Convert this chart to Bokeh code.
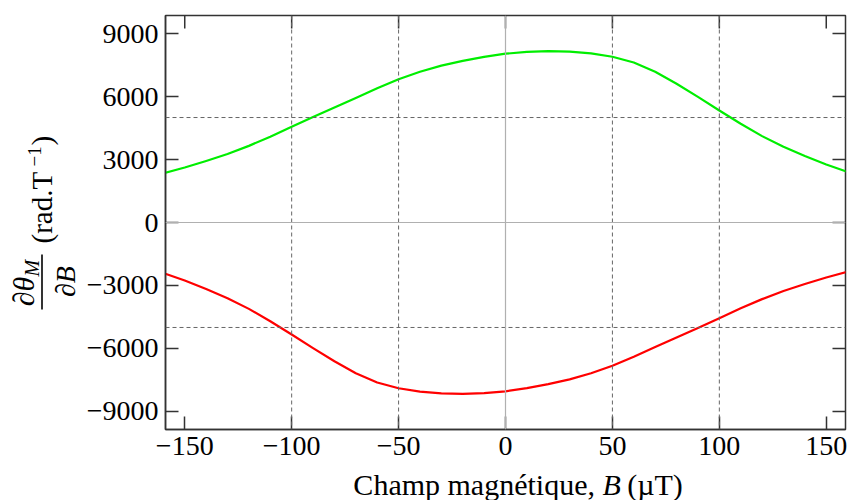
import math
from bokeh.plotting import figure
from bokeh.layouts import row, column
from bokeh.models import Range1d, Span, FixedTicker, CustomJSTickFormatter
from bokeh.core.properties import value
from bokeh.embed import file_html
from bokeh.resources import INLINE

# ---- data ----
B = [-160, -150, -140, -130, -120, -110, -100, -90, -80, -70, -60, -50, -40, -30, -20, -10,
     0, 10, 20, 30, 40, 50, 60, 70, 80, 90, 100, 110, 120, 130, 140, 150, 160]
green = [2340, 2620, 2930, 3260, 3650, 4090, 4560, 5020, 5480, 5930, 6390, 6820, 7180, 7470,
         7700, 7890, 8040, 8130, 8165, 8140, 8055, 7895, 7620, 7180, 6610, 5985, 5335, 4705,
         4115, 3605, 3165, 2765, 2405]
red = [-2405, -2765, -3165, -3605, -4115, -4705, -5335, -5985, -6610, -7180, -7620, -7895,
       -8055, -8140, -8165, -8130, -8040, -7890, -7700, -7470, -7180, -6820, -6390, -5930,
       -5480, -5020, -4560, -4090, -3650, -3260, -2930, -2620, -2340]
x_ticks = [-150, -100, -50, 0, 50, 100, 150]
y_ticks = [-9000, -6000, -3000, 0, 3000, 6000, 9000]
dashed_x = [-100, -50, 50, 100]
dashed_y = [-5000, 5000]
x_label_parts = ["Champ magnétique,", "B", "(µT)"]
y_label_parts = ["\u2202\u03b8", "M", "\u2202B", "(rad.T", "\u22121", ")"]

X0, X1 = -159, 159
Y0, Y1 = -9860, 9860

FONT = "Liberation Serif"
TOTAL_W, TOTAL_H = 850, 500
LW = 81                      # width of the left label strip
MW, MH = TOTAL_W - LW, 466   # main figure
BH = TOTAL_H - MH            # bottom label strip
FL, FT, FR, FB = 84, 15, 5, 37
FW = MW - FL - FR
FH = MH - FT - FB

# ---------------- main plot ----------------
p = figure(width=MW, height=MH, output_backend="svg", toolbar_location=None, title=None,
           x_range=Range1d(X0, X1), y_range=Range1d(Y0, Y1),
           min_border_left=FL, min_border_top=FT, min_border_right=FR,
           min_border_bottom=FB)
p.grid.visible = False
p.outline_line_color = "#333333"
p.outline_line_width = 1.5
p.background_fill_color = "white"
p.border_fill_color = "white"

minus_fmt = CustomJSTickFormatter(
    code="return tick < 0 ? '\u2212' + Math.abs(tick) : String(tick);")

for ax, ticks, standoff in ((p.xaxis[0], x_ticks, 7), (p.yaxis[0], y_ticks, 7)):
    ax.ticker = FixedTicker(ticks=ticks)
    ax.formatter = minus_fmt
    ax.major_tick_in = 13
    ax.major_tick_out = 0
    ax.minor_tick_in = 0
    ax.minor_tick_out = 0
    ax.major_tick_line_color = "#333333"
    ax.major_tick_line_width = 1.5
    ax.axis_line_color = "#333333"
    ax.axis_line_width = 1.5
    ax.major_label_text_font = FONT
    ax.major_label_text_font_size = "28px"
    ax.major_label_text_color = "black"
    ax.major_label_standoff = standoff

# reference lines
for xv in dashed_x:
    p.add_layout(Span(location=xv, dimension="height", line_color="#666666",
                      line_dash="4 3", line_width=1))
for yv in dashed_y:
    p.add_layout(Span(location=yv, dimension="width", line_color="#666666",
                      line_dash="4 3", line_width=1))
p.add_layout(Span(location=0, dimension="height", line_color="#b0b0b0", line_width=1.2))
p.add_layout(Span(location=0, dimension="width", line_color="#b0b0b0", line_width=1.2))

# mirrored ticks on top and right (13 px long, inward)
tick_dy = 13 * (Y1 - Y0) / FH
tick_dx = 13 * (X1 - X0) / FW
p.segment(x0=x_ticks, y0=[Y1] * len(x_ticks), x1=x_ticks, y1=[Y1 - tick_dy] * len(x_ticks),
          line_color="#333333", line_width=1.5)
p.segment(x0=[X1] * len(y_ticks), y0=y_ticks, x1=[X1 - tick_dx] * len(y_ticks), y1=y_ticks,
          line_color="#333333", line_width=1.5)

p.line(B, green, line_color="#00ee00", line_width=2.2, line_join="round")
p.line(B, red, line_color="#ff0000", line_width=2.2, line_join="round")

# ---------------- helper strips for the axis titles ----------------
def strip(w, h, xr, yr, bl=0, br=0):
    f = figure(width=w, height=h, output_backend="svg", toolbar_location=None, title=None,
               x_range=Range1d(*xr), y_range=Range1d(*yr),
               x_axis_location=None, y_axis_location=None,
               min_border=0, min_border_left=bl, min_border_right=br,
               min_border_top=0, min_border_bottom=0)
    f.grid.visible = False
    f.outline_line_color = None
    f.background_fill_color = "white"
    f.border_fill_color = "white"
    return f

ASC, DESC = 0.891, 0.216
MID = (ASC - DESC) / 2     # box middle above baseline, in em

def put(f, text, x, y_page, size, style="normal", angle=0.0):
    # data coordinates of the strips are page pixels, with y measured upward from the bottom
    f.text(x=[x], y=[TOTAL_H - y_page], text=[text], angle=angle,
           text_font=value(FONT), text_font_size=value(f"{size}px"), text_font_style=style,
           text_align="center", text_baseline="middle", text_color="black")

# left strip (page x 0..LW, page y 0..TOTAL_H): rotated  ∂θ_M / ∂B  (rad.T^-1)
L = strip(LW, TOTAL_H, (0, LW), (0, TOTAL_H))
A = math.pi / 2
# (text, baseline x, start y, width in em, size, style)
pieces = [
    (y_label_parts[0], 33, 306, 0.994, 30, "italic"),
    (y_label_parts[1], 38, 276, 0.833, 20, "italic"),
    (y_label_parts[2], 74, 296.5, 1.105, 28, "italic"),
    (y_label_parts[3], 51, 243, 2.471, 29, "normal"),
    (y_label_parts[4], 40, 166, 1.064, 19, "normal"),
    (y_label_parts[5], 51, 145, 0.333, 29, "normal"),
]
for text, bx, sy, wem, size, style in pieces:
    put(L, text, bx - MID * size, sy - wem * size / 2, size, style, angle=A)
L.segment(x0=[41.5], y0=[TOTAL_H - 254], x1=[41.5], y1=[TOTAL_H - 309],
          line_color="black", line_width=1.6)

# bottom strip: frame aligned with the main frame (page x LW+FL .. TOTAL_W-FR)
S = strip(MW, BH, (LW + FL, TOTAL_W - FR), (0, BH), bl=FL, br=FR)
fs = 30
w1 = 8.055 * fs      # "Champ magnétique,"
w_sp = 0.25 * fs
w_b = 0.611 * fs
w3 = 1.777 * fs
total = w1 + w_sp + w_b + w_sp + w3
xs = 517 - total / 2
cy = 494 - MID * fs
put(S, x_label_parts[0], xs + w1 / 2, cy, fs)
put(S, x_label_parts[1], xs + w1 + w_sp + w_b / 2, cy, fs, "italic")
put(S, x_label_parts[2], xs + w1 + 2 * w_sp + w_b + w3 / 2, cy, fs)

layout = row(L, column(p, S, spacing=0), spacing=0)
open("out.html", "w").write(file_html(layout, INLINE))
